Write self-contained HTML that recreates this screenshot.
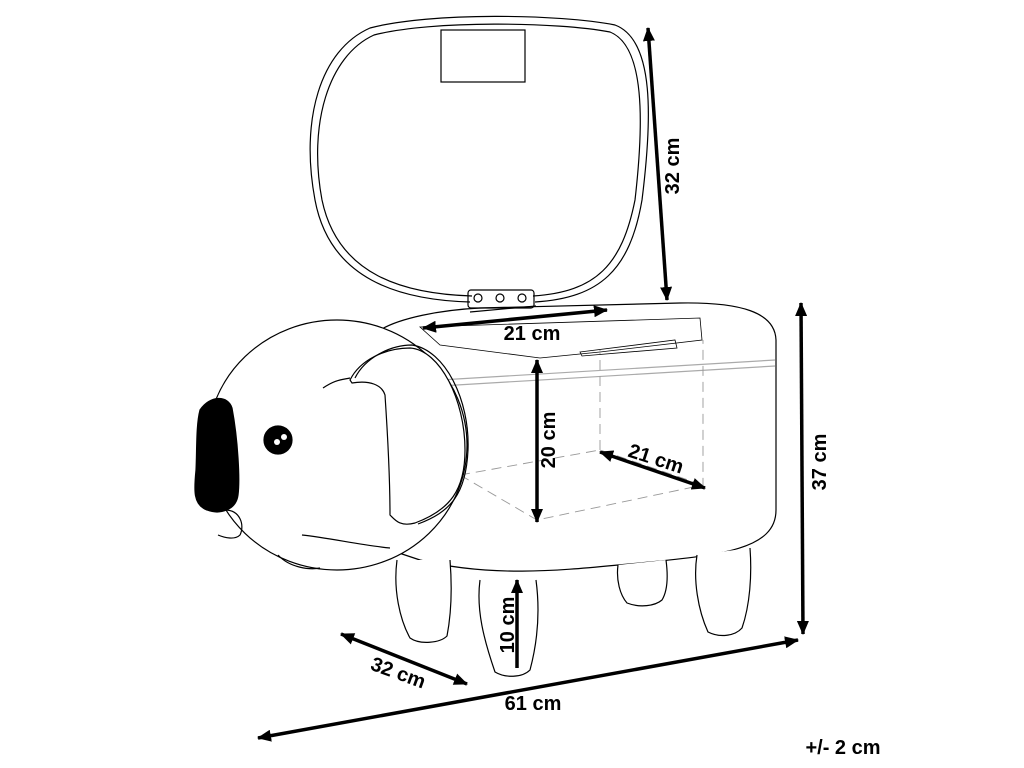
<!DOCTYPE html>
<html><head><meta charset="utf-8"><style>
html,body{margin:0;padding:0;background:#fff;width:1024px;height:768px;overflow:hidden}
text{font-family:"Liberation Sans",sans-serif;font-weight:bold;font-size:20px;fill:#000}
</style></head><body>
<svg width="1024" height="768" viewBox="0 0 1024 768" xmlns="http://www.w3.org/2000/svg">
<defs>
<marker id="b" markerWidth="14" markerHeight="12" refX="13" refY="6" orient="auto-start-reverse" markerUnits="userSpaceOnUse"><path d="M0,0 L14,6 L0,12 z" fill="#000"/></marker></defs>
<g fill="none" stroke="#000" stroke-width="1.2">
<!-- lid -->
<path d="M470,302 C400,300 330,280 315,200 C300,120 320,50 370,28 C430,12 560,14 615,25 C655,40 652,120 642,200 C630,270 600,298 535,302"/>
<path d="M472,296 C405,294 338,276 322,200 C308,125 328,56 374,35 C432,20 558,22 610,32 C645,46 644,122 635,200 C622,265 596,292 533,296"/>
<rect x="441" y="30" width="84" height="52"/>
<!-- hinge -->
<rect x="468" y="290" width="66" height="18" rx="3"/>
<circle cx="478" cy="298" r="4"/><circle cx="500" cy="298" r="4"/><circle cx="522" cy="298" r="4"/>
<path d="M470,312 L536,306"/>
<!-- body -->
<path d="M380,330 C400,318 440,310 480,308 L680,303 C740,302 775,312 776,340 L776,510 C776,550 720,555 640,563 C580,568 500,580 420,560 L390,550"/>
<path d="M420,327 L700,318 L702,340 L600,352 L540,358 L440,345 Z" stroke-width="0.8"/>
<path d="M440,380 L775,360" stroke="#aaa"/><path d="M440,386 L775,366" stroke="#aaa"/>
<path d="M580,352 L675,340 L677,348 L582,356 Z" stroke-width="0.8"/>
<g stroke="#999" stroke-dasharray="10,6" stroke-width="0.9">
<path d="M460,475 L537,520 L703,485 L703,340"/><path d="M460,475 L600,450 L703,485"/><path d="M600,450 L600,350"/><path d="M537,520 L537,360"/>
</g>
<!-- head -->
<ellipse cx="337" cy="445" rx="130" ry="125" fill="#fff"/>
<path d="M225,510 C240,510 245,525 240,535 C235,540 225,538 218,535"/>
<path d="M302,535 C330,538 360,545 390,548"/>
<path d="M278,555 C290,568 310,570 320,568"/>
<path d="M323,388 C335,380 340,380 350,378"/>
<!-- ear -->
<path d="M350,380 C360,360 385,348 410,348 C440,350 465,400 465,450 C465,490 450,510 415,523 C400,527 395,520 390,515 C390,480 388,440 385,395 C382,385 370,380 352,383 Z" fill="#fff"/>
<path d="M355,378 C365,358 390,345 412,345 C445,350 470,400 468,450 C466,495 450,512 418,524"/>
<!-- nose -->
<path d="M200,410 C210,395 228,395 232,408 C238,440 240,480 238,495 C236,510 220,515 207,510 C193,505 194,490 196,470 C197,450 196,425 200,410 Z" fill="#000"/>
<circle cx="278" cy="440" r="14" fill="#000"/>
<circle cx="277" cy="442" r="3" fill="#fff" stroke="none"/><circle cx="284" cy="437" r="3" fill="#fff" stroke="none"/>
<!-- legs -->
<path d="M397,560 C393,590 400,620 410,638 C420,645 440,643 447,636 C452,610 452,585 450,560" fill="#fff"/>
<path d="M480,580 C476,610 484,640 495,672 C505,678 522,678 530,670 C538,640 540,610 536,580" fill="#fff"/>
<path d="M618,565 C616,580 620,595 627,603 C640,608 655,606 662,600 C668,590 668,575 666,560" fill="#fff"/>
<path d="M697,555 C693,580 698,610 708,632 C720,638 735,636 742,628 C750,605 752,575 750,548" fill="#fff"/>
</g>
<!-- dimensions -->
<g stroke="#000" stroke-width="3.5" fill="none">
<line x1="648" y1="28" x2="667" y2="300" marker-start="url(#b)" marker-end="url(#b)"/>
<line x1="801" y1="303" x2="803" y2="634" marker-start="url(#b)" marker-end="url(#b)"/>
<line x1="423" y1="328" x2="607" y2="310" marker-start="url(#b)" marker-end="url(#b)"/>
<line x1="537" y1="360" x2="537" y2="522" marker-start="url(#b)" marker-end="url(#b)"/>
<line x1="600" y1="452" x2="705" y2="488" marker-start="url(#b)" marker-end="url(#b)"/>
<line x1="517" y1="580" x2="517" y2="668" marker-start="url(#b)"/>
<line x1="341" y1="634" x2="467" y2="684" marker-start="url(#b)" marker-end="url(#b)"/>
<line x1="258" y1="738" x2="798" y2="640" marker-start="url(#b)" marker-end="url(#b)"/>
</g>
<text transform="translate(679,166) rotate(-90)" text-anchor="middle">32 cm</text>
<text transform="translate(826,462) rotate(-90)" text-anchor="middle">37 cm</text>
<text x="532" y="340" text-anchor="middle">21 cm</text>
<text transform="translate(555,440) rotate(-90)" text-anchor="middle">20 cm</text>
<text transform="translate(654,465) rotate(18)" text-anchor="middle">21 cm</text>
<text transform="translate(514,625) rotate(-90)" text-anchor="middle">10 cm</text>
<text transform="translate(396,679) rotate(20)" text-anchor="middle">32 cm</text>
<text x="533" y="710" text-anchor="middle">61 cm</text>
<text x="843" y="754" text-anchor="middle">+/- 2 cm</text>
</svg>
</body></html>
